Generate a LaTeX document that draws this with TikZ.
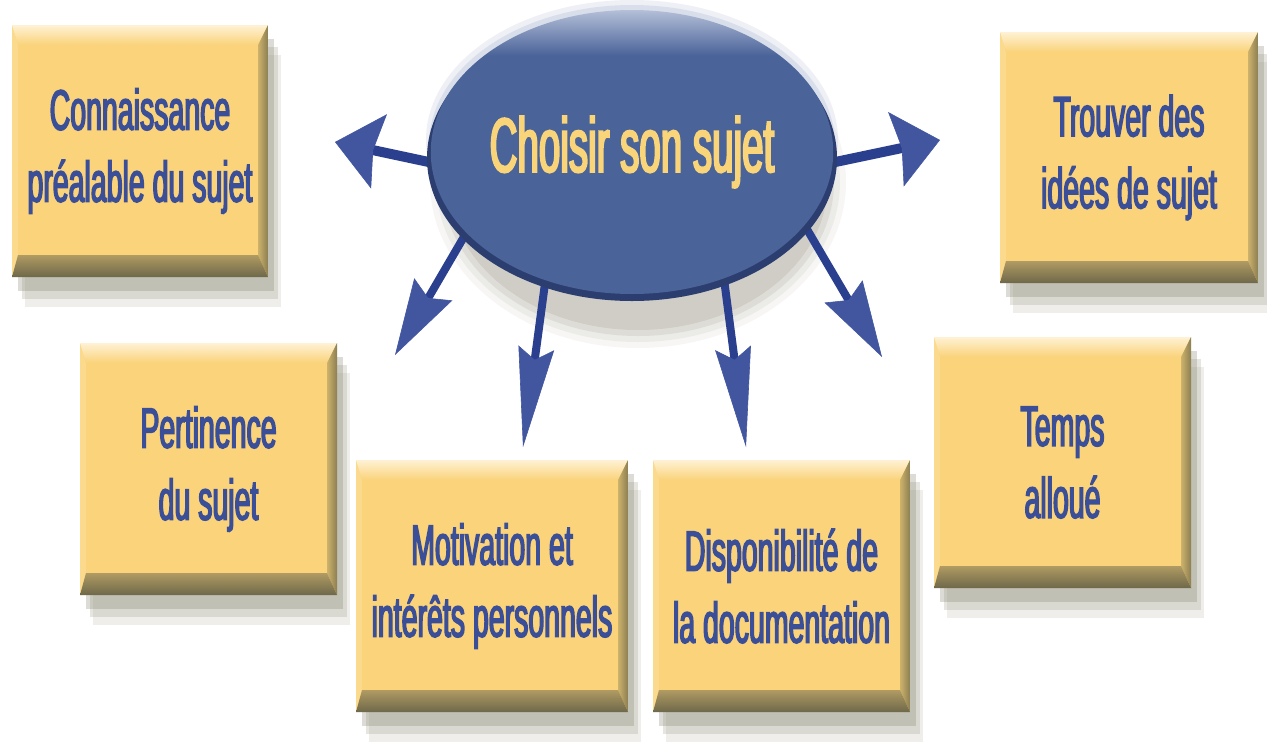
\documentclass[tikz,border=0pt]{standalone}
\usepackage{fontspec}
\setmainfont{Liberation Sans}
\newfontfamily\boxfont[FakeStretch=0.5,FakeBold=2.5]{Liberation Sans}
\usetikzlibrary{arrows.meta,shapes.geometric,shadows,calc}
\definecolor{face}{HTML}{FAD37A}
\definecolor{bevT}{HTML}{FEF1D4}
\definecolor{bevL}{HTML}{FBDA8E}
\definecolor{bevRa}{HTML}{CDB26C}
\definecolor{bevRb}{HTML}{8C7F52}
\definecolor{bevBa}{HTML}{B09B62}
\definecolor{bevBm}{HTML}{847A52}
\definecolor{bevBb}{HTML}{6E684A}
\definecolor{txtblue}{HTML}{3B4F98}
\definecolor{shadowgray}{HTML}{8E8B76}
\definecolor{ellM}{HTML}{4A6399}
\definecolor{ellL}{HTML}{B4BFD8}
\definecolor{rim}{HTML}{2C3E70}
\definecolor{ellText}{HTML}{F9D479}
\definecolor{arrShaft}{HTML}{2B3F8F}
\definecolor{arrHead}{HTML}{4256A0}
\pgfdeclarelayer{shadowlayer}
\pgfdeclarelayer{arrowlayer}
\pgfsetlayers{shadowlayer,arrowlayer,main}
\pgfdeclareverticalshading{ellsh}{100bp}{color(0bp)=(ellM); color(67bp)=(ellM); color(75bp)=(ellL); color(100bp)=(ellL)}
\tikzset{
  bevels/.style={path picture={
    \coordinate (ppNW) at (path picture bounding box.north west);
    \coordinate (ppNE) at (path picture bounding box.north east);
    \coordinate (ppSW) at (path picture bounding box.south west);
    \coordinate (ppSE) at (path picture bounding box.south east);
    \fill[bevL] (ppNW) -- ($(ppNW)+(6,20)$) -- ($(ppSW)+(6,-22)$) -- (ppSW) -- cycle;
    \shade[top color=bevT, bottom color=face] (ppNW) -- (ppNE) -- ($(ppNE)+(-10,20)$) -- ($(ppNW)+(6,20)$) -- cycle;
    \shade[left color=bevRa, right color=bevRb] (ppNE) -- (ppSE) -- ($(ppSE)+(-10,-22)$) -- ($(ppNE)+(-10,20)$) -- cycle;
    \shade[top color=bevBa, middle color=bevBm, bottom color=bevBb] (ppSW) -- ($(ppSW)+(6,-22)$) -- ($(ppSE)+(-10,-22)$) -- (ppSE) -- cycle;
  }},
  tbox/.style={rectangle, inner sep=0pt, fill=face, text=txtblue, align=center,
    font=\boxfont\fontsize{57}{72}\selectfont, bevels,
    general shadow={fill=shadowgray, opacity=0.30, shadow xshift=6pt, shadow yshift=-14pt},
    general shadow={fill=shadowgray, opacity=0.22, shadow xshift=10pt, shadow yshift=-22pt},
    general shadow={fill=shadowgray, opacity=0.14, shadow xshift=13pt, shadow yshift=-30pt}},
  ell/.style={ellipse, inner sep=0pt, shading=ellsh, text=ellText,
    font=\boxfont\fontsize{77}{90}\selectfont},
  arrH/.style={draw=arrShaft, line width=10pt,
    -{Stealth[length=45pt,width=76pt,inset=6pt,line width=0.6pt,fill=arrHead,color=arrHead]}},
  arrD/.style={draw=arrShaft, line width=8pt,
    -{Stealth[length=76pt,width=44pt,inset=10pt,line width=0.6pt,fill=arrHead,color=arrHead]}},
  arrV/.style={draw=arrShaft, line width=8pt,
    -{Stealth[length=100pt,width=36pt,inset=12pt,line width=0.6pt,fill=arrHead,color=arrHead]}},
}
\begin{document}
\begin{tikzpicture}[x=1pt,y=-1pt]
\useasboundingbox (0,0) rectangle (1267,748);
\begin{pgfonlayer}{shadowlayer}
  \fill[white] (0,0) rectangle (1267,748);
\end{pgfonlayer}
% central ellipse
\fill[ellL, opacity=0.22] (632,140) ellipse (206 and 140);
\fill[ellL, opacity=0.35] (632,145) ellipse (203 and 140);
\fill[rim] (632,158) ellipse (205 and 143);
\node[ell, minimum width=402pt, minimum height=284pt] (c) at (632,152) {Choisir son sujet};
\begin{pgfonlayer}{shadowlayer}
  \foreach \i/\o in {0/0.18,6/0.14,12/0.10,18/0.07}
    \fill[shadowgray, opacity=\o] (638,182) ellipse ({190+\i} and {148+\i});
\end{pgfonlayer}
\begin{pgfonlayer}{arrowlayer}
  \coordinate (tL) at (335,142);
  \coordinate (tR) at (940,140);
  \coordinate (tLL) at (395,355);
  \coordinate (tML) at (523,447);
  \coordinate (tMR) at (746,447);
  \coordinate (tLR) at (882,357);
  \draw[arrH] (c.183) -- (tL);
  \draw[arrH] (c.357) -- (tR);
  \draw[arrD] (c.206) -- (tLL);
  \draw[arrV] (c.236) -- (tML);
  \draw[arrV] (c.306) -- (tMR);
  \draw[arrD] (c.337) -- (tLR);
\end{pgfonlayer}
% boxes
\node[tbox, minimum width=256pt, minimum height=252pt] (k1) at (140,151) {Connaissance\\préalable du sujet};
\node[tbox, minimum width=258pt, minimum height=251pt] (k2) at (1129,157.5) {Trouver des\\idées de sujet};
\node[tbox, minimum width=257pt, minimum height=252pt] (k3) at (208.5,469) {Pertinence\\du sujet};
\node[tbox, minimum width=272pt, minimum height=252pt] (k4) at (492,586) {Motivation et\\intérêts personnels};
\node[tbox, minimum width=257pt, minimum height=252pt] (k5) at (781.5,586) {Disponibilité de\\la documentation};
\node[tbox, minimum width=257pt, minimum height=251pt] (k6) at (1062.5,462.5) {Temps\\alloué};
\end{tikzpicture}
\end{document}
